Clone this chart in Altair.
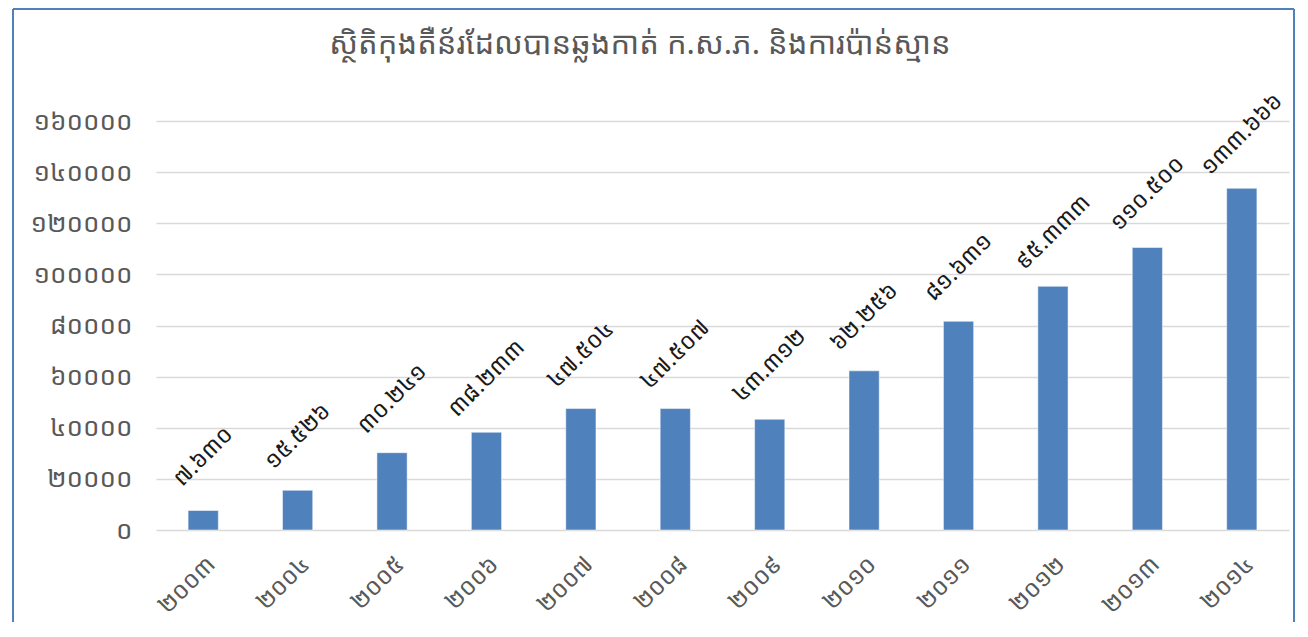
import altair as alt
import pandas as pd

years = ["២០០៣", "២០០៤", "២០០៥", "២០០៦", "២០០៧", "២០០៨", "២០០៩", "២០១០", "២០១១", "២០១២", "២០១៣", "២០១៤"]
values = [7630, 15526, 30241, 38233, 47504, 47507, 43312, 62256, 81631, 95333, 110500, 133666]
value_labels = ["៧.៦៣០", "១៥.៥២៦", "៣០.២៤១", "៣៨.២៣៣", "៤៧.៥០៤", "៤៧.៥០៧", "៤៣.៣១២", "៦២.២៥៦", "៨១.៦៣១", "៩៥.៣៣៣", "១១០.៥០០", "១៣៣.៦៦៦"]
y_tick_values = [0, 20000, 40000, 60000, 80000, 100000, 120000, 140000, 160000]
y_tick_labels = ["០", "២០០០០", "៤០០០០", "៦០០០០", "៨០០០០", "១០០០០០", "១២០០០០", "១៤០០០០", "១៦០០០០"]
title_text = ["ស្ថិតិកុងតឺន័រដែលបានឆ្លងកាត់ ក.ស.ភ. និងការប៉ាន់ស្មាន"]

FONT = "Noto Sans Khmer, Khmer OS, Noto Sans, DejaVu Sans"
W, H = 1133, 409

df = pd.DataFrame({"year": years, "value": values, "label": value_labels})

label_map = "{" + ", ".join(f"'{v}': '{l}'" for v, l in zip(y_tick_values, y_tick_labels)) + "}"

base = alt.Chart(df)

bars = base.mark_bar(color="#4f81bd", stroke="#ffffff", strokeWidth=0.5).encode(
    x=alt.X("year:N", sort=years, title=None,
            scale=alt.Scale(paddingInner=0.68, paddingOuter=0.34),
            axis=alt.Axis(labelAngle=315, labelFontSize=24, labelColor="#595959",
                          labelFont=FONT, ticks=False, domain=False, labelPadding=22)),
    y=alt.Y("value:Q", title=None,
            scale=alt.Scale(domain=[0, 160000], nice=False),
            axis=alt.Axis(values=y_tick_values, labelExpr=label_map + "[datum.value + '']",
                          labelFontSize=26, labelColor="#595959", labelFont=FONT,
                          ticks=False, domain=False, labelPadding=24,
                          gridColor="#d9d9d9", gridWidth=1.5)),
)

texts = base.mark_text(angle=315, align="center", baseline="middle", yOffset=-54,
                       fontSize=23, font=FONT, color="#1a1a1a").encode(
    x=alt.X("year:N", sort=years),
    y=alt.Y("value:Q"),
    text="label:N",
)

title_df = pd.DataFrame({"t": title_text})
title_mark = alt.Chart(title_df).mark_text(
    font=FONT, fontSize=31, color="#595959", align="center", baseline="middle"
).encode(x=alt.value(484), y=alt.value(-76), text="t:N")

frame_df = pd.DataFrame({"k": [0]})
frame = alt.Chart(frame_df)
left_edge = frame.mark_rule(color="#4f81bd", strokeWidth=2).encode(
    x=alt.value(-143), y=alt.value(-112), y2=alt.value(H + 92))
right_edge = frame.mark_rule(color="#4f81bd", strokeWidth=2).encode(
    x=alt.value(1138), y=alt.value(-112), y2=alt.value(H + 92))
top_edge = frame.mark_rule(color="#4f81bd", strokeWidth=2).encode(
    x=alt.value(-143), x2=alt.value(1138), y=alt.value(-112))

chart = alt.layer(bars, texts, title_mark, left_edge, right_edge, top_edge).properties(
    width=W, height=H,
    padding={"left": 4, "top": 0, "right": 0, "bottom": 0},
).configure_view(stroke=None)

chart.save("out.html", embed_options={"renderer": "svg", "actions": False})
